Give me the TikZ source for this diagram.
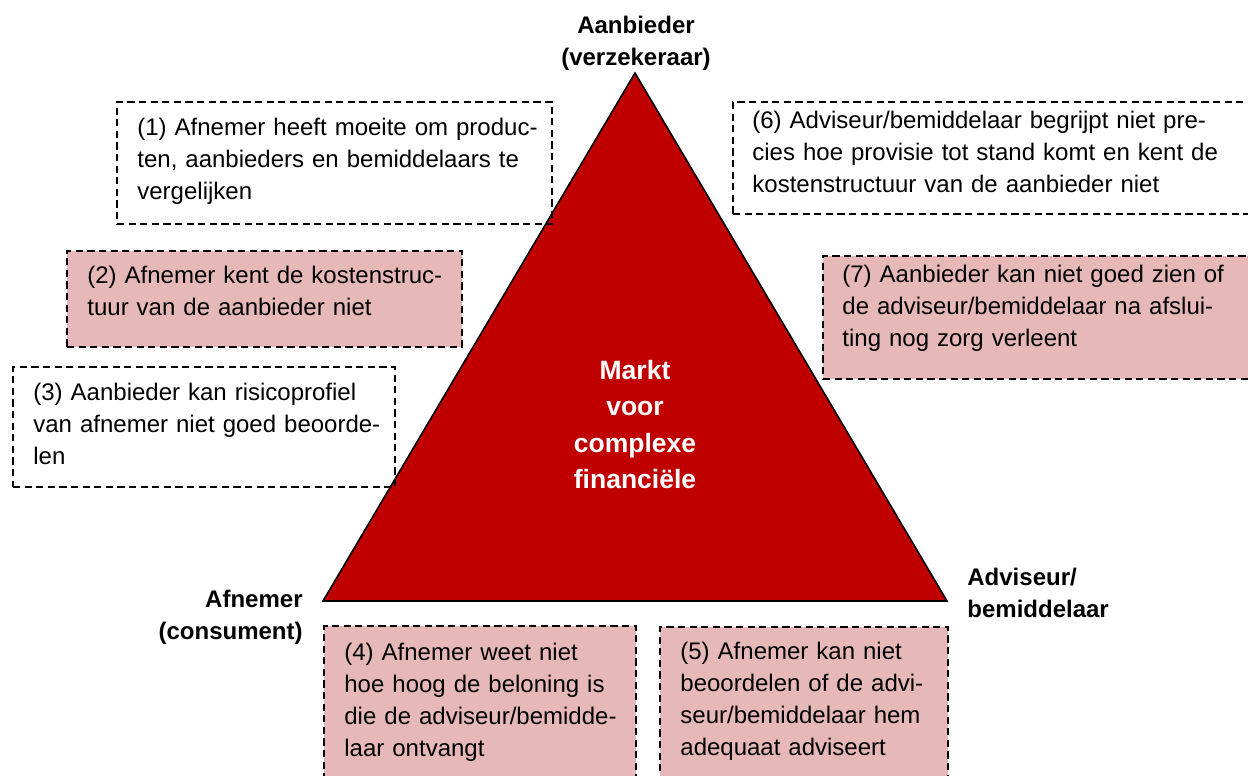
\documentclass[tikz,border=0pt]{standalone}
\usepackage{fontspec}
\setmainfont{Liberation Sans}
\usepackage{tikz}
\usetikzlibrary{positioning}

\definecolor{marktred}{HTML}{C00000}
\definecolor{issuepink}{HTML}{E6B8B7}

\tikzset{
	issuebox/.style={draw=black, line width=1pt, dash pattern=on 3.6pt off 2.2pt, anchor=north west, inner sep=0pt},
	issuetext/.style={align=left, inner sep=0pt, text width=260pt, font=\fontsize{12}{16}\selectfont},
	corner/.style={inner sep=0pt, font=\fontsize{12}{16}\selectfont\bfseries},
}

\begin{document}
\begin{tikzpicture}[x=0.5pt, y=-0.5pt]
				\path[use as bounding box, clip] (0,0) rectangle (1248,776);
				
				% Corners of the triangle
				\coordinate (top) at (635,73);
				\coordinate (left) at (323,601);
				\coordinate (right) at (947,601);
				
				% Triangle
				\draw[fill=marktred, line width=0.8pt, line join=miter] (top) -- (left) -- (right) -- cycle;
				\node[corner, text width=80pt, align=center, anchor=base, text=white,
					font=\fontsize{13.25}{18.25}\selectfont\bfseries] (markt) at (635,379)
					{Markt\\voor\\complexe\\financiële};
				
				% Corner labels
				\node[corner, text width=80pt, align=center, anchor=base] (aanbieder) at (636,33) {Aanbieder\\(verzekeraar)};
				\node[corner, text width=80pt, align=right, anchor=base east] (afnemer) at (303,607) {Afnemer\\(consument)};
				\node[corner, text width=80pt, align=left, anchor=base west] (adviseur) at (967,585) {Adviseur/\\bemiddelaar};
				
				% Issue boxes
				\node[issuebox, minimum width=217.5pt, minimum height=61pt] (box1) at (116,101) {};
				\node[issuebox, fill=issuepink, minimum width=197.5pt, minimum height=48pt] (box2) at (66,250) {};
				\node[issuebox, minimum width=191pt, minimum height=60pt] (box3) at (12,366) {};
				\node[issuebox, fill=issuepink, minimum width=156pt, minimum height=90pt] (box4) at (323,625) {};
				\node[issuebox, fill=issuepink, minimum width=144pt, minimum height=90pt] (box5) at (659,626) {};
				\node[issuebox, minimum width=262pt, minimum height=56pt] (box6) at (732,101) {};
				\node[issuebox, fill=issuepink, minimum width=217pt, minimum height=61.5pt] (box7) at (822,255) {};
				
				% Issue texts
				\node[issuetext, text height=17pt, below right=0pt and 10.5pt of box1.north west] (text1)
					{(1) Afnemer heeft moeite om produc-\\ten, aanbieders en bemiddelaars te\\vergelijken};
				\node[issuetext, text height=16.5pt, below right=0pt and 10.5pt of box2.north west] (text2)
					{(2) Afnemer kent de kostenstruc-\\tuur van de aanbieder niet};
				\node[issuetext, text height=17pt, below right=0pt and 10.5pt of box3.north west] (text3)
					{(3) Aanbieder kan risicoprofiel\\van afnemer niet goed beoorde-\\len};
				\node[issuetext, text height=17.5pt, below right=0pt and 10.5pt of box4.north west] (text4)
					{(4) Afnemer weet niet\\hoe hoog de beloning is\\die de adviseur/bemidde-\\laar ontvangt};
				\node[issuetext, text height=16.5pt, below right=0pt and 10.5pt of box5.north west] (text5)
					{(5) Afnemer kan niet\\beoordelen of de advi-\\seur/bemiddelaar hem\\adequaat adviseert};
				\node[issuetext, text height=13.5pt, below right=0pt and 10pt of box6.north west] (text6)
					{(6) Adviseur/bemiddelaar begrijpt niet pre-\\cies hoe provisie tot stand komt en kent de\\kostenstructuur van de aanbieder niet};
				\node[issuetext, text height=13.5pt, below right=0pt and 10pt of box7.north west] (text7)
					{(7) Aanbieder kan niet goed zien of\\de adviseur/bemiddelaar na afslui-\\ting nog zorg verleent};
			\end{tikzpicture}
\end{document}
